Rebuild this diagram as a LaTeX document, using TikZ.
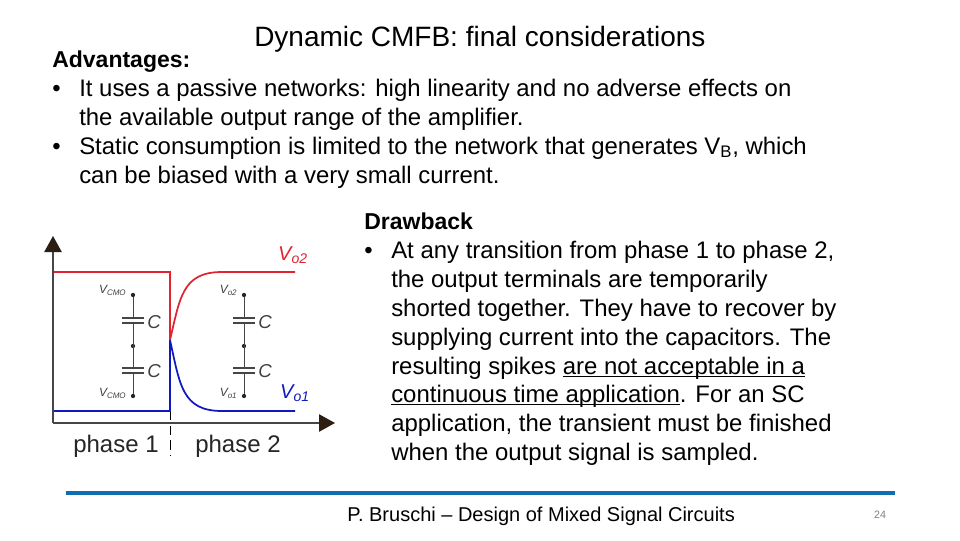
\documentclass[tikz,border=0pt]{standalone}
\usepackage{fontspec}
\setmainfont{Liberation Sans}
\usetikzlibrary{positioning}
\usetikzlibrary{arrows.meta}
\definecolor{barblue}{RGB}{15,110,175}
\definecolor{curvered}{RGB}{225,35,50}
\definecolor{curveblue}{RGB}{15,25,190}
\definecolor{axisgray}{RGB}{70,70,70}
\definecolor{tipbrown}{RGB}{45,30,20}
\begin{document}
\begin{tikzpicture}[x=0.75pt,y=-0.75pt,
	txt/.style={anchor=base west,inner sep=0,font=\fontsize{17.95}{18}\selectfont},
	plate/.style={fill=axisgray,inner sep=0,minimum width=16.5pt,minimum height=0.9pt},
	dot/.style={circle,fill=black!85,inner sep=0,minimum size=3.2pt},
	wire/.style={axisgray,line width=0.6pt},
	small/.style={inner sep=0,text=black!75,font=\fontsize{9}{9}\selectfont\itshape},
	capl/.style={inner sep=0,text=black!75,font=\fontsize{14}{14}\selectfont\itshape},
	phase/.style={inner sep=0,text=black!85,font=\fontsize{18}{18}\selectfont},
	axis/.style={axisgray,line width=1.1pt,-{Triangle[length=12pt,width=13pt,color=tipbrown]}}]

	\useasboundingbox[fill=white] (0,0) rectangle (960,540);

	% slide text
	\node[txt,font=\fontsize{21}{21}\selectfont] (title) at (254,46) {Dynamic CMFB: final considerations};
	\node[txt,font=\fontsize{17.25}{18}\selectfont\bfseries] (adv) at (52,67) {Advantages:};
	\node[txt] (b1) at (52,96) {•};
	\node[txt] (a1) at (79,96) {It uses a passive networks: high linearity and no adverse effects on};
	\node[txt] (a2) at (79,125) {the available output range of the amplifier.};
	\node[txt] (b2) at (52,154) {•};
	\node[txt] (a3) at (79,154) {Static consumption is limited to the network that generates V\textsubscript{B}, which};
	\node[txt] (a4) at (79,183) {can be biased with a very small current.};

	\node[txt,font=\fontsize{17.25}{18}\selectfont\bfseries] (draw) at (364,229) {Drawback};
	\node[txt] (b3) at (364,258) {•};
	\node[txt] (d1) at (391,258) {At any transition from phase 1 to phase 2,};
	\node[txt] (d2) at (391,287) {the output terminals are temporarily};
	\node[txt] (d3) at (391,316) {shorted together. They have to recover by};
	\node[txt] (d4) at (391,345) {supplying current into the capacitors. The};
	\node[txt] (d5) at (391,374) {resulting spikes \underline{\smash{are not acceptable in a}}};
	\node[txt] (d6) at (391,402) {\underline{\smash{continuous time application}}. For an SC};
	\node[txt] (d7) at (391,431) {application, the transient must be finished};
	\node[txt] (d8) at (391,460) {when the output signal is sampled.};

	% footer
	\coordinate (barl) at (66,493);
	\coordinate (barr) at (895,493);
	\draw[barblue,line width=3pt] (barl) -- (barr);
	\node[txt,font=\fontsize{15}{15}\selectfont] (foot) at (347,521) {P. Bruschi – Design of Mixed Signal Circuits};
	\node[inner sep=0,text=black!50,font=\fontsize{8}{8}\selectfont] (page) at (880,515) {24};

	% axes
	\coordinate (org) at (53,423);
	\coordinate (ytip) at (53,236);
	\coordinate (xtip) at (335,423);
	\coordinate (sw) at (170,340);
	\coordinate (redl) at (53,272);
	\coordinate (redm) at (170,272);
	\coordinate (redr) at (295,272);
	\coordinate (blul) at (53,411);
	\coordinate (blum) at (170,411);
	\coordinate (blur) at (295,411);
	\coordinate (dashb) at (170,456);
	\draw[black,line width=0.7pt,dashed,dash pattern=on 7pt off 4pt] (blum) -- (dashb);
	\draw[curveblue,line width=1.2pt] (blul) -- (blum) -- (sw);
	\draw[curvered,line width=1.2pt] (redl) -- (redm) -- (sw);
	\draw[curvered,line width=1.3pt] (sw) .. controls (180,298) and (182,272) .. (222,272) -- (redr);
	\draw[curveblue,line width=1.3pt] (sw) .. controls (180,385) and (182,411) .. (222,411) -- (blur);
	\draw[axis] (org) -- (ytip);
	\draw[axis] (org) -- (xtip);

	\node[text=curvered,inner sep=0,font=\fontsize{15}{15}\selectfont\itshape] (vo2) at (293,255) {V\textsubscript{o2}};
	\node[text=curveblue,inner sep=0,font=\fontsize{15}{15}\selectfont\itshape] (vo1) at (295,393) {V\textsubscript{o1}};
	\node[phase] (ph1) at (116,446) {phase 1};
	\node[phase] (ph2) at (238,446) {phase 2};

	% phase 1 network
	\node[dot] (ltop) at (133,295) {};
	\node[dot] (lmid) at (133,346) {};
	\node[dot] (lbot) at (133,396) {};
	\node[plate] (lp1) at (133,318) {};
	\node[plate] (lp2) at (133,323) {};
	\node[plate] (lp3) at (133,368) {};
	\node[plate] (lp4) at (133,373) {};
	\draw[wire] (ltop) -- (lp1);
	\draw[wire] (lp2) -- (lp3);
	\draw[wire] (lp4) -- (lbot);
	\node[small] (lv1) [left=3pt of ltop,yshift=3.5pt] {V\textsubscript{CMO}};
	\node[small] (lv2) [left=3pt of lbot,yshift=2pt] {V\textsubscript{CMO}};
	\node[capl] (lc1) at (154,322) {C};
	\node[capl] (lc2) at (154,371) {C};

	% phase 2 network
	\node[dot] (rtop) at (244,295) {};
	\node[dot] (rmid) at (244,346) {};
	\node[dot] (rbot) at (244,396) {};
	\node[plate] (rp1) at (244,318) {};
	\node[plate] (rp2) at (244,323) {};
	\node[plate] (rp3) at (244,368) {};
	\node[plate] (rp4) at (244,373) {};
	\draw[wire] (rtop) -- (rp1);
	\draw[wire] (rp2) -- (rp3);
	\draw[wire] (rp4) -- (rbot);
	\node[small] (rv1) [left=3pt of rtop,yshift=3.5pt] {V\textsubscript{o2}};
	\node[small] (rv2) [left=3pt of rbot,yshift=2pt] {V\textsubscript{o1}};
	\node[capl] (rc1) at (265,322) {C};
	\node[capl] (rc2) at (265,371) {C};
\end{tikzpicture}
\end{document}
